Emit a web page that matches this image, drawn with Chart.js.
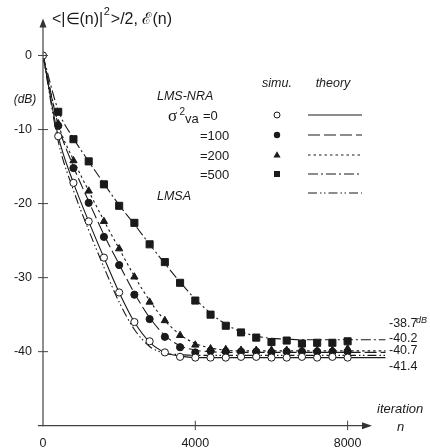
<!DOCTYPE html>
<html><head><meta charset="utf-8">
<script src="https://cdn.jsdelivr.net/npm/chart.js@4.4.1/dist/chart.umd.min.js"></script>
<style>html,body{margin:0;padding:0;background:#fff}#wrap{width:430px;height:448px;position:relative}</style>
</head><body><div id="wrap"><canvas id="c" width="430" height="448"></canvas></div>
<script>
// ---- data (iteration n, dB) ----
const simN = [0,400,800,1200,1600,2000,2400,2800,3200,3600,4000,4400,4800,5200,5600,6000,6400,6800,7200,7600,8000];
const simVa0   = [0,-10.9,-17.2,-22.4,-27.3,-32.0,-36.0,-38.6,-40.1,-40.7,-40.8,-40.8,-40.8,-40.7,-40.7,-40.8,-40.8,-40.7,-40.8,-40.7,-40.8];
const simVa100 = [null,-9.5,-15.2,-19.9,-24.5,-28.3,-32.3,-35.6,-38.0,-39.4,-40.1,-39.9,-40.0,-40.0,-40.0,-40.1,-40.0,-40.0,-40.0,-40.0,-40.0];
const simVa200 = [null,-9.2,-14.2,-18.3,-22.4,-26.1,-29.9,-33.3,-35.8,-37.8,-39.1,-39.6,-39.7,-39.8,-39.8,-39.8,-39.8,-39.8,-39.8,-39.8,-39.6];
const simVa500 = [null,-7.6,-11.3,-14.3,-17.4,-20.3,-22.6,-25.5,-27.9,-30.7,-33.1,-35.0,-36.5,-37.4,-38.1,-38.7,-38.5,-38.9,-38.8,-38.8,-38.6];

const thN = [0,400,800,1200,1600,2000,2400,2800,3200,3600,4000,4400,4800,5200,5600,6000,6400,6800,7200,7600,8000,9000];
const thVa0   = [0,-10.9,-17.2,-22.4,-27.3,-32.0,-36.0,-38.7,-40.1,-40.6,-40.8,-40.8,-40.8,-40.8,-40.8,-40.8,-40.8,-40.8,-40.8,-40.8,-40.8,-40.8];
const thVa100 = [0,-9.4,-15.0,-19.7,-24.2,-28.2,-32.1,-35.4,-37.8,-39.2,-39.8,-40.0,-40.1,-40.1,-40.1,-40.1,-40.1,-40.1,-40.1,-40.1,-40.1,-40.1];
const thVa200 = [0,-9.2,-14.1,-18.3,-22.3,-26.1,-29.8,-33.1,-35.8,-37.7,-38.9,-39.5,-39.8,-39.9,-39.9,-39.9,-39.9,-39.9,-39.9,-39.9,-39.9,-39.9];
const thVa500 = [0,-7.4,-11.2,-14.3,-17.3,-20.2,-22.8,-25.5,-28.1,-30.6,-32.9,-34.8,-36.3,-37.3,-37.9,-38.2,-38.3,-38.4,-38.4,-38.4,-38.4,-38.4];
const thLMSA  = [0,-11.6,-18.2,-23.6,-28.6,-33.3,-37.0,-39.3,-40.2,-40.4,-40.5,-40.5,-40.5,-40.5,-40.5,-40.5,-40.5,-40.5,-40.5,-40.5,-40.5,-40.5];

const xTicks = [0,4000,8000];
const yTicks = [0,-10,-20,-30,-40];
const rightLabels = ['-38.7','-40.2','-40.7','-41.4'];
const vaLabels = ['=0','=100','=200','=500'];

// ---- styling ----
const F = '"Liberation Sans", Arial, sans-serif';
const ink = '#1a1a1a';
const dashes = {solid:[], dashed:[12,4], dotted:[2.5,3], dashdot:[10,3,2,3], dashdotdot:[9,3,1.5,2.5,1.5,3]};

const pts = (xs, ys) => xs.map((n,i)=>({x:n,y:ys[i]})).filter(p=>p.y!==null);

function simSet(ys, style, fill, r){
  return {data: pts(simN, ys), showLine:false, pointStyle:style, pointRadius:r, pointHoverRadius:r,
    pointBackgroundColor: fill, pointBorderColor: ink, pointBorderWidth:1};
}
function thSet(ys, dash){
  return {data: pts(thN, ys), showLine:true, pointRadius:0, borderColor: ink, borderWidth:1.1,
    borderDash: dash, cubicInterpolationMode:'monotone', fill:false};
}

const datasets = [
  simSet(simVa0, 'circle', '#fff', 3.6),
  simSet(simVa200, 'triangle', ink, 4.2),
  simSet(simVa100, 'circle', ink, 3.6),
  simSet(simVa500, 'rect', ink, 5),
  thSet(thVa0, dashes.solid),
  thSet(thVa100, dashes.dashed),
  thSet(thVa200, dashes.dotted),
  thSet(thVa500, dashes.dashdot),
  thSet(thLMSA, dashes.dashdotdot)
];

function txt(ctx, s, x, y, font, align){
  ctx.font = font; ctx.textAlign = align||'left'; ctx.textBaseline = 'middle'; ctx.fillText(s, x, y);
}

const deco = {
  id:'deco',
  afterDraw(chart){
    const {ctx, chartArea:a, scales:{x,y}} = chart;
    const x0 = x.getPixelForValue(0), yb = y.getPixelForValue(-50);
    ctx.save();
    ctx.strokeStyle = '#444'; ctx.fillStyle = '#333'; ctx.lineWidth = 1.2; ctx.setLineDash([]);
    // y axis + arrow
    ctx.beginPath(); ctx.moveTo(x0, yb+0.5); ctx.lineTo(x0, a.top+6); ctx.stroke();
    ctx.beginPath(); ctx.moveTo(x0, a.top); ctx.lineTo(x0-3.5, a.top+9); ctx.lineTo(x0+3.5, a.top+9); ctx.closePath(); ctx.fill();
    // x axis + arrow
    const xt = x.getPixelForValue(8640);
    ctx.beginPath(); ctx.moveTo(x0-5, yb); ctx.lineTo(xt-6, yb); ctx.stroke();
    ctx.beginPath(); ctx.moveTo(xt, yb); ctx.lineTo(xt-10, yb-3.5); ctx.lineTo(xt-10, yb+3.5); ctx.closePath(); ctx.fill();
    // tick marks crossing axes
    ctx.lineWidth = 1;
    yTicks.forEach(v=>{const p=y.getPixelForValue(v); ctx.beginPath(); ctx.moveTo(x0-5,p); ctx.lineTo(x0+5,p); ctx.stroke();});
    xTicks.forEach(v=>{ if(v===0) return; const p=x.getPixelForValue(v); ctx.beginPath(); ctx.moveTo(p,yb-5); ctx.lineTo(p,yb+4.5); ctx.stroke();});

    ctx.fillStyle = ink;
    // y title
    let cx = 52;
    ctx.font = '16px '+F; ctx.textAlign='left'; ctx.textBaseline='alphabetic';
    let s1 = '<|\u2208(n)|'; ctx.fillText(s1, cx, 24); cx += ctx.measureText(s1).width;
    ctx.font = '11px '+F; ctx.fillText('2', cx+0.5, 15); cx += ctx.measureText('2').width + 1.5;
    ctx.font = '16px '+F; ctx.fillText('>/2, \u2130(n)', cx, 24);
    txt(ctx, '(dB)', 25, 100, 'italic 12px '+F, 'center');

    // legend
    txt(ctx, 'LMS-NRA', 157, 97, 'italic 12.5px '+F);
    txt(ctx, '\u03c3', 168, 117, '17px "Liberation Serif", serif');
    txt(ctx, '2', 179.5, 112, '10px '+F);
    txt(ctx, 'va', 185, 119.5, '13px '+F);
    const rows = [115,135,155,174];
    vaLabels.forEach((s,i)=> txt(ctx, s, i===0?203:200, rows[i]+1, '13px '+F));
    txt(ctx, 'simu.', 277, 84, 'italic 12.5px '+F, 'center');
    txt(ctx, 'theory', 333, 84, 'italic 12.5px '+F, 'center');
    txt(ctx, 'LMSA', 157, 197, 'italic 12.5px '+F);
    // legend symbols
    const sx = 277;
    ctx.lineWidth = 1; ctx.strokeStyle = ink;
    ctx.beginPath(); ctx.arc(sx, rows[0], 3, 0, Math.PI*2); ctx.fillStyle='#fff'; ctx.fill(); ctx.stroke();
    ctx.fillStyle = ink;
    ctx.beginPath(); ctx.arc(sx, rows[1], 3.2, 0, Math.PI*2); ctx.fill();
    ctx.beginPath(); ctx.moveTo(sx, rows[2]-3.8); ctx.lineTo(sx+3.6, rows[2]+2.6); ctx.lineTo(sx-3.6, rows[2]+2.6); ctx.closePath(); ctx.fill();
    ctx.fillRect(sx-3, rows[3]-3, 6, 6);
    const ls = [dashes.solid, dashes.dashed, dashes.dotted, dashes.dashdot, dashes.dashdotdot];
    const ly = [115,135,155,174,193];
    ctx.lineWidth = 1.2;
    ls.forEach((d,i)=>{ ctx.setLineDash(d); ctx.beginPath(); ctx.moveTo(308, ly[i]); ctx.lineTo(362, ly[i]); ctx.stroke(); });
    ctx.setLineDash([]);

    // right-side level labels
    const ry = [324,339,351,367];
    rightLabels.forEach((s,i)=> txt(ctx, s, 389, ry[i], '12.5px '+F));
    txt(ctx, 'dB', 416, 320, 'italic 9px '+F);
    // x axis title
    txt(ctx, 'iteration', 377, 409, 'italic 13px '+F);
    txt(ctx, 'n', 397, 427, 'italic 13px '+F);
    ctx.restore();
  }
};

new Chart(document.getElementById('c'), {
  type:'scatter',
  data:{datasets},
  options:{
    responsive:false, animation:false, devicePixelRatio:1,
    layout:{padding:{top:1.5, right:44.3, left:0, bottom:0}},
    plugins:{legend:{display:false}, tooltip:{enabled:false}},
    scales:{
      x:{type:'linear', min:0, max:9000,
        grid:{display:false, drawTicks:false}, border:{display:false},
        afterBuildTicks:(s)=>{ s.ticks = xTicks.map(v=>({value:v})); },
        afterFit:(s)=>{ s.height = 22.3; },
        ticks:{padding:10, color:ink, font:{family:'"Liberation Sans", Arial, sans-serif', size:12.5}, callback:(v)=>String(v), maxRotation:0}
      },
      y:{type:'linear', min:-50, max:5,
        grid:{display:false, drawTicks:false}, border:{display:false},
        afterBuildTicks:(s)=>{ s.ticks = yTicks.map(v=>({value:v})); },
        afterFit:(s)=>{ s.width = 43; },
        ticks:{padding:11, color:ink, font:{family:'"Liberation Sans", Arial, sans-serif', size:12.5}, callback:(v)=>String(v)}
      }
    }
  },
  plugins:[deco]
});
</script></body></html>
